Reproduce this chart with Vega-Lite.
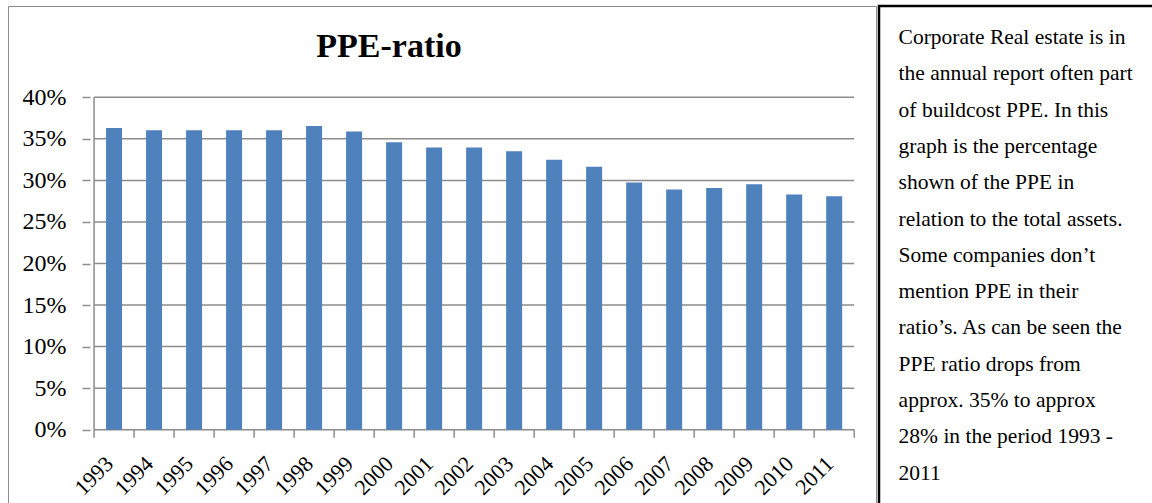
{
  "$schema": "https://vega.github.io/schema/vega-lite/v6.json",
  "padding": {"left": 7, "top": 4, "right": 0, "bottom": 0},
  "background": "white",
  "config": {"font": "Liberation Serif", "concat": {"spacing": 0}},
  "spacing": 0,
  "hconcat": [
    {
      "width": 868,
      "height": 500,
      "view": {"stroke": "#8c8c8c", "strokeWidth": 1, "fill": "white"},
      "title": {
        "text": "PPE-ratio",
        "font": "Liberation Serif",
        "fontSize": 34,
        "fontWeight": "bold",
        "color": "black",
        "anchor": "middle",
        "frame": "group",
        "dx": -53,
        "offset": -85,
        "baseline": "alphabetic"
      },
      "layer": [
        {
          "data": {"values": [{"g": 0}, {"g": 5}, {"g": 10}, {"g": 15}, {"g": 20}, {"g": 25}, {"g": 30}, {"g": 35}, {"g": 40}]},
          "mark": {"type": "rule", "color": "#8c8c8c", "strokeWidth": 1.5},
          "encoding": {
            "y": {"field": "g", "type": "quantitative", "title": null, "scale": {"domain": [-9.18, 50.99], "nice": false, "zero": false}},
            "x": {"datum": 1992.5, "type": "quantitative", "scale": {"domain": [1990.474, 2011.92], "nice": false, "zero": false}},
            "x2": {"datum": 2011.5}
          }
        },
        {
          "data": {"values": [{"a": 0, "b": 40}]},
          "mark": {"type": "rule", "color": "#8c8c8c", "strokeWidth": 1.5},
          "encoding": {
            "x": {"datum": 1992.5, "type": "quantitative"},
            "y": {"field": "a", "type": "quantitative", "title": null},
            "y2": {"field": "b"}
          }
        },
        {
          "data": {"values": [{"t": 1992.5}, {"t": 1993.5}, {"t": 1994.5}, {"t": 1995.5}, {"t": 1996.5}, {"t": 1997.5}, {"t": 1998.5}, {"t": 1999.5}, {"t": 2000.5}, {"t": 2001.5}, {"t": 2002.5}, {"t": 2003.5}, {"t": 2004.5}, {"t": 2005.5}, {"t": 2006.5}, {"t": 2007.5}, {"t": 2008.5}, {"t": 2009.5}, {"t": 2010.5}, {"t": 2011.5}]},
          "mark": {"type": "rule", "color": "#8c8c8c", "strokeWidth": 1.5},
          "encoding": {
            "x": {"field": "t", "type": "quantitative", "title": null},
            "y": {"datum": 0, "type": "quantitative"},
            "y2": {"datum": -0.96}
          }
        },
        {
          "data": {
            "values": [
              {"year": 1993, "ratio": 36.3},
              {"year": 1994, "ratio": 36.05},
              {"year": 1995, "ratio": 36.05},
              {"year": 1996, "ratio": 36.05},
              {"year": 1997, "ratio": 36.05},
              {"year": 1998, "ratio": 36.55},
              {"year": 1999, "ratio": 35.9},
              {"year": 2000, "ratio": 34.6},
              {"year": 2001, "ratio": 33.95},
              {"year": 2002, "ratio": 33.95},
              {"year": 2003, "ratio": 33.5},
              {"year": 2004, "ratio": 32.5},
              {"year": 2005, "ratio": 31.65},
              {"year": 2006, "ratio": 29.75},
              {"year": 2007, "ratio": 28.9},
              {"year": 2008, "ratio": 29.1},
              {"year": 2009, "ratio": 29.55},
              {"year": 2010, "ratio": 28.3},
              {"year": 2011, "ratio": 28.1}
            ]
          },
          "mark": {"type": "bar", "size": 16, "color": "#4F81BD"},
          "encoding": {
            "x": {
              "field": "year",
              "type": "quantitative",
              "title": null,
              "scale": {"domain": [1990.474, 2011.92], "nice": false, "zero": false},
              "axis": {
                "values": [1993, 1994, 1995, 1996, 1997, 1998, 1999, 2000, 2001, 2002, 2003, 2004, 2005, 2006, 2007, 2008, 2009, 2010, 2011],
                "format": "d",
                "offset": -76.3,
                "domain": false,
                "grid": false,
                "ticks": false,
                "labelAngle": -45,
                "labelAlign": "right",
                "labelBaseline": "top",
                "labelPadding": 23,
                "labelOffset": -12,
                "labelOverlap": false,
                "labelSeparation": 0,
                "labelBound": false,
                "labelFlush": false,
                "labelFont": "Liberation Serif",
                "labelFontSize": 22,
                "labelColor": "black"
              }
            },
            "y": {
              "field": "ratio",
              "type": "quantitative",
              "title": null,
              "scale": {"domain": [-9.18, 50.99], "nice": false, "zero": false},
              "axis": {
                "values": [0, 5, 10, 15, 20, 25, 30, 35, 40],
                "offset": -82,
                "domain": false,
                "grid": false,
                "tickSize": 8,
                "tickColor": "#8c8c8c",
                "tickWidth": 1.5,
                "labelPadding": 16,
                "labelFont": "Liberation Serif",
                "labelFontSize": 24,
                "labelColor": "black",
                "labelExpr": "datum.value + '%'"
              }
            },
            "y2": {"datum": 0}
          }
        }
      ]
    },
    {
      "width": 280,
      "height": 505,
      "view": {"stroke": "black", "strokeWidth": 2.5},
      "data": {
        "values": [
          {"i": 0, "t": "Corporate Real estate is in"},
          {"i": 1, "t": "the annual report often part"},
          {"i": 2, "t": "of buildcost PPE. In this"},
          {"i": 3, "t": "graph is the percentage"},
          {"i": 4, "t": "shown of the PPE in"},
          {"i": 5, "t": "relation to the  total assets."},
          {"i": 6, "t": "Some companies don’t"},
          {"i": 7, "t": "mention PPE in their"},
          {"i": 8, "t": "ratio’s.  As can be seen the"},
          {"i": 9, "t": "PPE ratio drops from"},
          {"i": 10, "t": "approx. 35% to approx"},
          {"i": 11, "t": "28% in the period 1993 -"},
          {"i": 12, "t": "2011"}
        ]
      },
      "mark": {"type": "text", "align": "left", "baseline": "middle", "font": "Liberation Serif", "fontSize": 21.5, "color": "black"},
      "encoding": {
        "x": {"datum": 0.07, "type": "quantitative", "scale": {"domain": [0, 1], "nice": false, "zero": false}, "axis": null},
        "y": {"field": "i", "type": "quantitative", "axis": null, "scale": {"domain": [-0.8815, 13.03], "reverse": true, "nice": false, "zero": false}},
        "text": {"field": "t"}
      }
    }
  ]
}
